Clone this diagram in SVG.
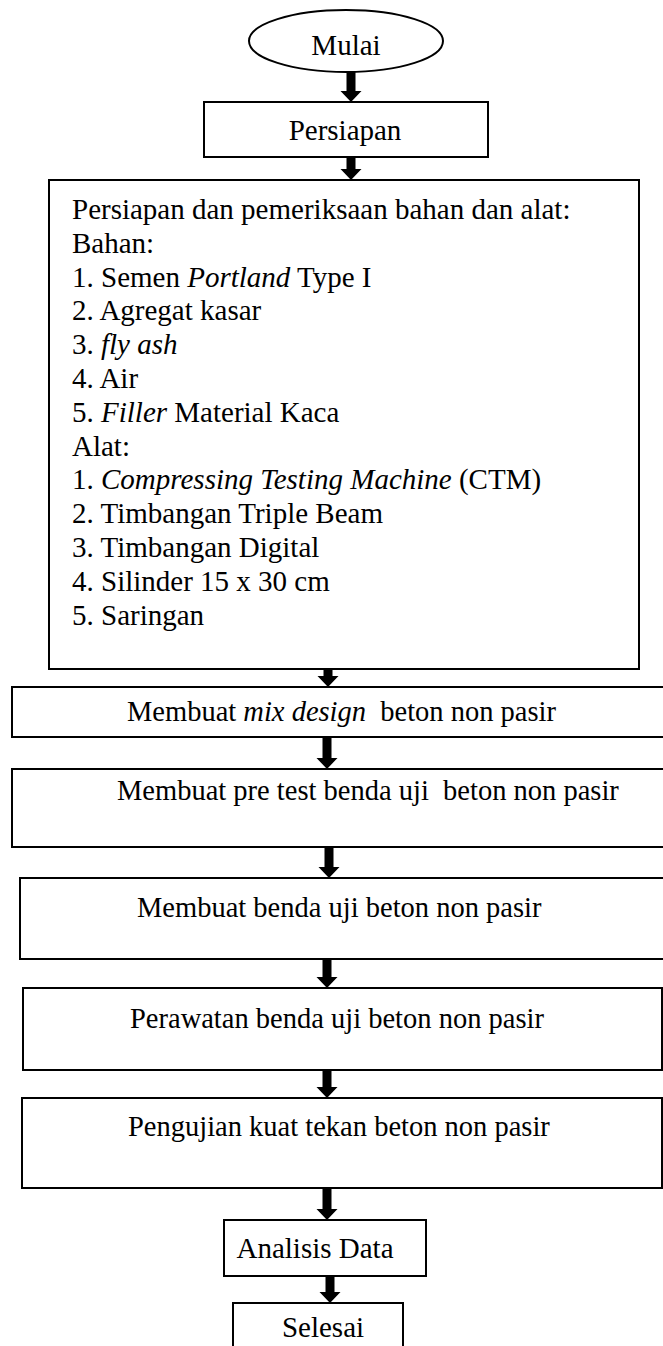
<svg xmlns="http://www.w3.org/2000/svg" width="663" height="1346" viewBox="0 0 663 1346">
<defs>
<style>
.b{fill:#fff;stroke:#000;stroke-width:2}
.t{font-family:"Liberation Serif","Times New Roman",serif;font-size:29px;fill:#000}
.s{font-size:28.5px}
.c{text-anchor:middle}
.i{font-style:italic}
.ar{fill:#000;stroke:none}
</style>
</defs>
<g id="connectors">
<path class="ar" d="M346.5,72 H355.5 V91 H361.5 L351,102 L340.5,91 H346.5 Z"/>
<path class="ar" d="M346.5,157 H355.5 V169 H361.5 L351,180 L340.5,169 H346.5 Z"/>
<path class="ar" d="M323.5,669 H332.5 V676 H338.5 L328,687 L317.5,676 H323.5 Z"/>
<path class="ar" d="M322.5,737 H331.5 V758 H337.5 L327,769 L316.5,758 H322.5 Z"/>
<path class="ar" d="M324.5,847 H333.5 V867 H339.5 L329,878 L318.5,867 H324.5 Z"/>
<path class="ar" d="M322.5,959 H331.5 V977 H337.5 L327,988 L316.5,977 H322.5 Z"/>
<path class="ar" d="M322.5,1070 H331.5 V1087 H337.5 L327,1098 L316.5,1087 H322.5 Z"/>
<path class="ar" d="M322.5,1188 H331.5 V1209 H337.5 L327,1220 L316.5,1209 H322.5 Z"/>
<path class="ar" d="M325.5,1276 H334.5 V1292 H340.5 L330,1303 L319.5,1292 H325.5 Z"/>
</g>
<g id="mulai">
<ellipse class="b" cx="346" cy="41" rx="97" ry="31"/>
<text class="t c" x="346" y="55">Mulai</text>
</g>
<g id="persiapan">
<rect class="b" x="204" y="102" width="284" height="55"/>
<text class="t c" x="345" y="140">Persiapan</text>
</g>
<g id="bahan-alat">
<rect class="b" x="49" y="180" width="590" height="489"/>
<text class="t">
<tspan x="72" y="219">Persiapan dan pemeriksaan bahan dan alat:</tspan>
<tspan x="72" y="252.8">Bahan:</tspan>
<tspan x="72" y="286.6">1. Semen <tspan class="i">Portland</tspan> Type I</tspan>
<tspan x="72" y="320.4">2. Agregat kasar</tspan>
<tspan x="72" y="354.2">3. <tspan class="i">fly ash</tspan></tspan>
<tspan x="72" y="388">4. Air</tspan>
<tspan x="72" y="421.8">5. <tspan class="i">Filler</tspan> Material Kaca</tspan>
<tspan x="72" y="455.6">Alat:</tspan>
<tspan x="72" y="489.4">1. <tspan class="i">Compressing Testing Machine</tspan> (CTM)</tspan>
<tspan x="72" y="523.2">2. Timbangan Triple Beam</tspan>
<tspan x="72" y="557">3. Timbangan Digital</tspan>
<tspan x="72" y="590.8">4. Silinder 15 x 30 cm</tspan>
<tspan x="72" y="624.6">5. Saringan</tspan>
</text>
</g>
<g id="mix-design">
<rect class="b" x="12" y="687" width="660" height="50"/>
<text class="t s" x="127" y="721" xml:space="preserve">Membuat <tspan class="i">mix design</tspan>  beton non pasir</text>
</g>
<g id="pre-test">
<rect class="b" x="12" y="769" width="660" height="78"/>
<text class="t s" x="117" y="800" xml:space="preserve">Membuat pre test benda uji  beton non pasir</text>
</g>
<g id="benda-uji">
<rect class="b" x="20" y="878" width="652" height="81"/>
<text class="t s" x="137" y="917">Membuat benda uji beton non pasir</text>
</g>
<g id="perawatan">
<rect class="b" x="23" y="988" width="639" height="82"/>
<text class="t s" x="130" y="1028">Perawatan benda uji beton non pasir</text>
</g>
<g id="pengujian">
<rect class="b" x="22" y="1098" width="640" height="90"/>
<text class="t s" x="128" y="1136">Pengujian kuat tekan beton non pasir</text>
</g>
<g id="analisis">
<rect class="b" x="224" y="1220" width="202" height="56"/>
<text class="t c" x="315" y="1258">Analisis Data</text>
</g>
<g id="selesai">
<rect class="b" x="233" y="1303" width="170" height="60"/>
<text class="t c" x="323" y="1337">Selesai</text>
</g>
</svg>
